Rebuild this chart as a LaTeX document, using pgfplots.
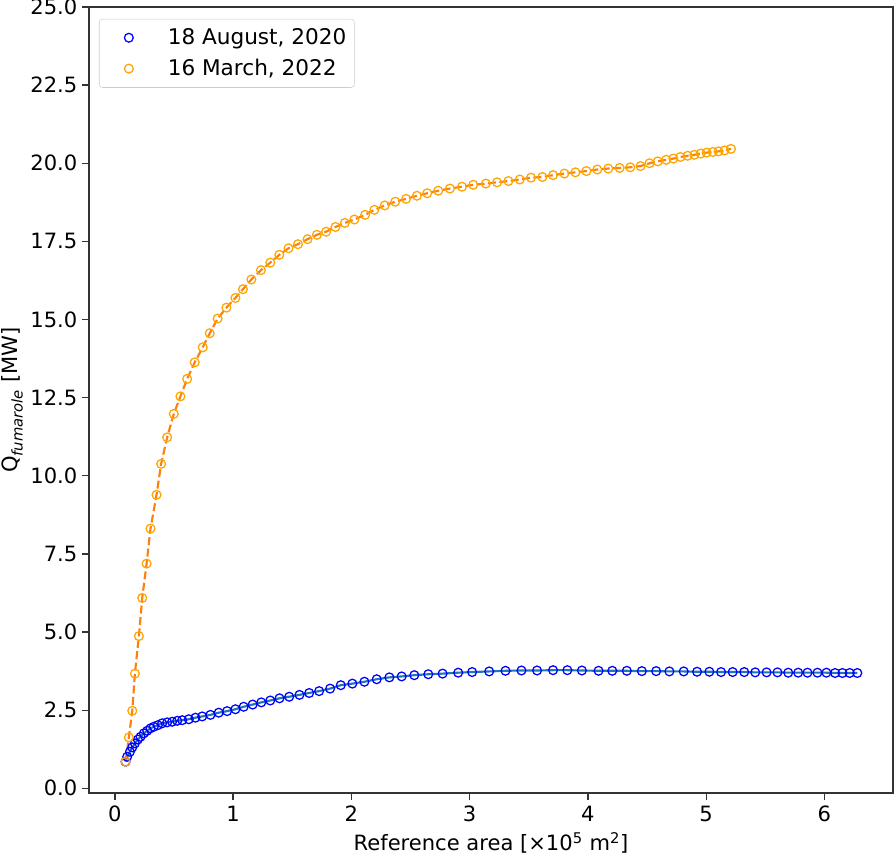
\documentclass[border=0pt]{standalone}
\usepackage{pgfplots}
\usepackage{pgfplotstable}
\pgfplotsset{compat=1.18}
\usepackage{fontspec}
\setmainfont{DejaVu Sans}
\definecolor{mplblue}{HTML}{1F77B4}
\definecolor{mplorange}{HTML}{FF7F0E}
\definecolor{orangemark}{HTML}{FFA500}
\definecolor{bluemark}{HTML}{0000FF}
\pgfplotsset{markleg/.style={legend image code/.code={\path (0pt,0pt) (45pt,0pt); \draw[##1] plot coordinates {(18pt,0pt)};}}}

\pgfplotstableread{
x y
0.09 0.85
0.118 1.63
0.147 2.48
0.169 3.67
0.203 4.87
0.231 6.09
0.268 7.19
0.301 8.31
0.352 9.39
0.391 10.38
0.442 11.23
0.498 11.98
0.554 12.54
0.611 13.10
0.675 13.63
0.743 14.11
0.802 14.56
0.869 15.03
0.943 15.38
1.019 15.69
1.083 15.97
1.154 16.28
1.235 16.58
1.314 16.82
1.390 17.07
1.468 17.28
1.548 17.41
1.629 17.57
1.708 17.71
1.786 17.81
1.865 17.96
1.944 18.09
2.025 18.20
2.116 18.35
2.194 18.51
2.282 18.65
2.371 18.77
2.462 18.86
2.554 18.96
2.641 19.04
2.734 19.12
2.833 19.19
2.935 19.25
3.030 19.31
3.137 19.35
3.232 19.39
3.328 19.43
3.424 19.48
3.519 19.54
3.615 19.56
3.705 19.62
3.801 19.67
3.894 19.71
3.987 19.75
4.079 19.80
4.172 19.83
4.268 19.85
4.358 19.87
4.445 19.91
4.521 20.00
4.591 20.06
4.662 20.11
4.723 20.15
4.782 20.20
4.844 20.24
4.900 20.27
4.954 20.31
5.004 20.34
5.055 20.36
5.105 20.38
5.156 20.41
5.210 20.46
}\marchdata

\pgfplotstableread{
x y
0.09 0.85
0.104 1.01
0.127 1.17
0.147 1.31
0.169 1.44
0.194 1.56
0.217 1.65
0.245 1.76
0.273 1.84
0.301 1.92
0.329 1.97
0.363 2.02
0.400 2.08
0.442 2.11
0.484 2.13
0.527 2.16
0.569 2.18
0.625 2.21
0.681 2.26
0.738 2.30
0.808 2.35
0.878 2.42
0.949 2.47
1.019 2.53
1.089 2.61
1.165 2.68
1.238 2.75
1.314 2.81
1.392 2.88
1.474 2.93
1.561 2.99
1.643 3.05
1.727 3.11
1.820 3.19
1.910 3.30
2.008 3.35
2.110 3.41
2.214 3.49
2.321 3.55
2.425 3.58
2.532 3.62
2.650 3.65
2.771 3.67
2.903 3.70
3.021 3.72
3.165 3.74
3.303 3.76
3.438 3.77
3.570 3.77
3.705 3.78
3.826 3.78
3.949 3.77
4.090 3.76
4.206 3.76
4.329 3.76
4.456 3.75
4.577 3.75
4.689 3.74
4.810 3.74
4.923 3.73
5.027 3.73
5.126 3.72
5.224 3.72
5.322 3.72
5.415 3.71
5.511 3.71
5.603 3.71
5.694 3.70
5.778 3.70
5.857 3.70
5.941 3.70
6.017 3.70
6.090 3.69
6.152 3.69
6.214 3.69
6.278 3.69
}\augustdata

\begin{document}
\begin{tikzpicture}
\begin{axis}[
  name=ax,
  scale only axis,
  width=603pt, height=589.5pt,
  xmin=-0.219, xmax=6.58, ymin=-0.15, ymax=25,
  xtick={0,1,2,3,4,5,6},
  ytick={0,2.5,5,7.5,10,12.5,15,17.5,20,22.5,25},
  yticklabel style={/pgf/number format/.cd, fixed, fixed zerofill, precision=1},
  /pgf/number format/assume math mode=true,
  tick align=outside,
  xtick pos=bottom, ytick pos=left,
  major tick length=5.25pt,
  tick style={line width=1pt, black!80},
  axis line style={line width=1pt, black!80},
  ticklabel style={font=\fontsize{15.8}{18}\selectfont},
  xticklabel style={yshift=-1pt},
  label style={font=\fontsize{15.8}{18}\selectfont},
  xlabel={Reference area [×10\textsuperscript{5} m\textsuperscript{2}]},
  ylabel={Q\textsubscript{\textit{fumarole}} [MW]},
  xlabel style={at={([yshift=-43.3pt]axis description cs:0.5,0)}, anchor=base},
  ylabel style={at={([xshift=-53.25pt]axis description cs:0,0.5)}, anchor=base, rotate=0},
  legend cell align=left,
  legend style={at={(0.0124,0.985)}, anchor=north west, draw=black!20,
    rounded corners=2.5pt, fill=white, fill opacity=0.8, text opacity=1,
    font=\fontsize{16.2}{18}\selectfont, inner xsep=4pt, inner ysep=5.25pt,
    row sep=5.5pt},
]
\addplot[only marks, mark=o, mark size=3.3pt, bluemark, mark options={line width=0.95pt}, markleg] table[x=x,y=y] {\augustdata};
\addlegendentry{18 August, 2020}
\addplot[only marks, mark=o, mark size=3.3pt, orangemark, mark options={line width=0.95pt}, markleg] table[x=x,y=y] {\marchdata};
\addlegendentry{16 March, 2022}
\addplot[forget plot, no marks, mplblue, line width=1.6pt] table[x=x,y=y] {\augustdata};
\addplot[forget plot, no marks, mplorange, line width=1.6pt, dash pattern=on 6pt off 2.6pt] table[x=x,y=y] {\marchdata};
\end{axis}
\pgfresetboundingbox
\path ([xshift=-66.75pt,yshift=-46.5pt]ax.south west) rectangle ([xshift=2.25pt,yshift=5.25pt]ax.north east);
\end{tikzpicture}
\end{document}
